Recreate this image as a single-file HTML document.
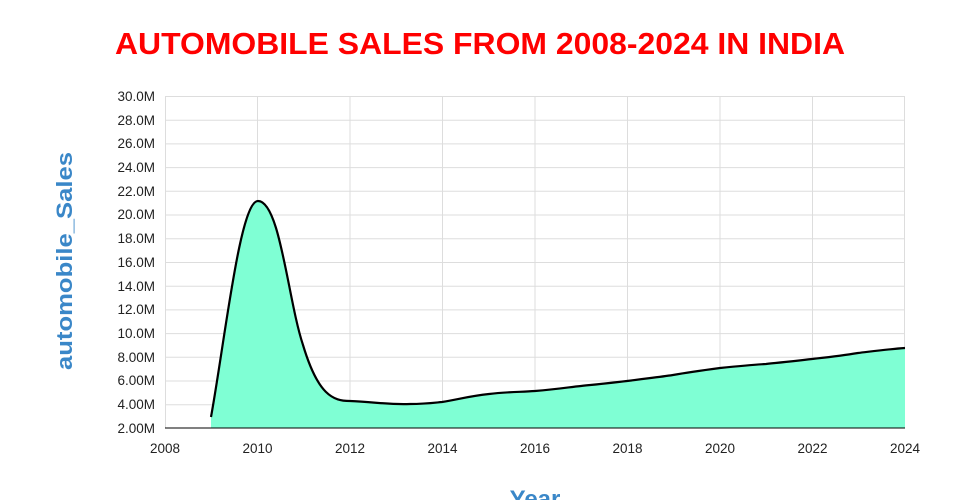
<!DOCTYPE html>
<html><head><meta charset="utf-8"><style>
body{margin:0;background:#fff;width:960px;height:500px;overflow:hidden;font-family:"Liberation Sans",sans-serif}
</style></head><body>
<svg width="960" height="500" xmlns="http://www.w3.org/2000/svg" font-family="Liberation Sans, sans-serif" style="display:block">
<text x="480" y="54" text-anchor="middle" font-size="31" font-weight="bold" fill="#ff0000" textLength="730" lengthAdjust="spacingAndGlyphs">AUTOMOBILE SALES FROM 2008-2024 IN INDIA</text>
<g stroke="#dddddd" stroke-width="1">
<line x1="165" x2="905" y1="96.5" y2="96.5"/><line x1="165" x2="905" y1="120.2" y2="120.2"/><line x1="165" x2="905" y1="143.9" y2="143.9"/><line x1="165" x2="905" y1="167.6" y2="167.6"/><line x1="165" x2="905" y1="191.3" y2="191.3"/><line x1="165" x2="905" y1="215" y2="215"/><line x1="165" x2="905" y1="238.7" y2="238.7"/><line x1="165" x2="905" y1="262.5" y2="262.5"/><line x1="165" x2="905" y1="286.2" y2="286.2"/><line x1="165" x2="905" y1="309.9" y2="309.9"/><line x1="165" x2="905" y1="333.6" y2="333.6"/><line x1="165" x2="905" y1="357.3" y2="357.3"/><line x1="165" x2="905" y1="381" y2="381"/><line x1="165" x2="905" y1="404.7" y2="404.7"/>
<line x1="165.5" x2="165.5" y1="96" y2="428"/><line x1="257.5" x2="257.5" y1="96" y2="428"/><line x1="350" x2="350" y1="96" y2="428"/><line x1="442.5" x2="442.5" y1="96" y2="428"/><line x1="535" x2="535" y1="96" y2="428"/><line x1="627.5" x2="627.5" y1="96" y2="428"/><line x1="720" x2="720" y1="96" y2="428"/><line x1="812.5" x2="812.5" y1="96" y2="428"/><line x1="904.5" x2="904.5" y1="96" y2="428"/>
</g>
<path d="M211,428 L211,417 C225,340 240,201 258,201 C280,201 288,300 303,345 C318,395 333,401 350,401 C375,402 390,405 410,404 C425,404 432,403 442,402 C460,399 470,396 489,394 C505,392 520,392 535,391 C560,389 570,387 581,386 C600,384 610,383 627,381 C650,378 660,377 673,375 C690,372 705,370 720,368 C740,366 750,365 766,364 C785,362 795,361 812,359 C830,357 840,356 858,353 C875,351 890,349 905,348 L905,428 Z" fill="#7fffd4"/>
<path d="M211,417 C225,340 240,201 258,201 C280,201 288,300 303,345 C318,395 333,401 350,401 C375,402 390,405 410,404 C425,404 432,403 442,402 C460,399 470,396 489,394 C505,392 520,392 535,391 C560,389 570,387 581,386 C600,384 610,383 627,381 C650,378 660,377 673,375 C690,372 705,370 720,368 C740,366 750,365 766,364 C785,362 795,361 812,359 C830,357 840,356 858,353 C875,351 890,349 905,348" fill="none" stroke="#000" stroke-width="2.2"/>
<line x1="165" x2="905" y1="428" y2="428" stroke="#000" stroke-width="1"/>
<g font-size="13.5" fill="#222" text-anchor="end">
<text x="155" y="101">30.0M</text><text x="155" y="125">28.0M</text><text x="155" y="148">26.0M</text><text x="155" y="172">24.0M</text><text x="155" y="196">22.0M</text><text x="155" y="219">20.0M</text><text x="155" y="243">18.0M</text><text x="155" y="267">16.0M</text><text x="155" y="291">14.0M</text><text x="155" y="314">12.0M</text><text x="155" y="338">10.0M</text><text x="155" y="362">8.00M</text><text x="155" y="385">6.00M</text><text x="155" y="409">4.00M</text><text x="155" y="433">2.00M</text>
</g>
<g font-size="13.5" fill="#222" text-anchor="middle">
<text x="165" y="453">2008</text><text x="257.5" y="453">2010</text><text x="350" y="453">2012</text><text x="442.5" y="453">2014</text><text x="535" y="453">2016</text><text x="627.5" y="453">2018</text><text x="720" y="453">2020</text><text x="812.5" y="453">2022</text><text x="905" y="453">2024</text>
</g>
<text transform="translate(72,261) rotate(-90)" text-anchor="middle" font-size="22" font-weight="bold" fill="#3a87c8" textLength="218" lengthAdjust="spacingAndGlyphs">automobile_Sales</text>
<text x="535" y="507" text-anchor="middle" font-size="24" font-weight="bold" fill="#3a87c8">Year</text>
</svg>
</body></html>
